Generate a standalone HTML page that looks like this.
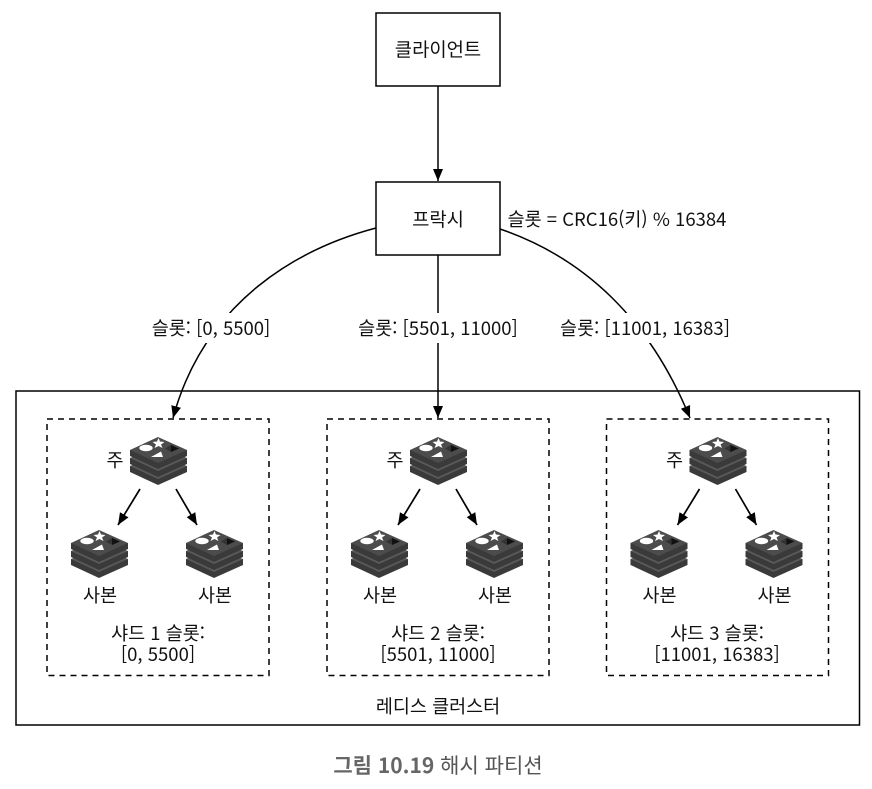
<!DOCTYPE html>
<html lang="ko"><head><meta charset="utf-8"><style>
html,body{margin:0;padding:0;background:#fff;width:872px;height:789px;overflow:hidden}
svg{display:block}
text{font-family:"Noto Sans CJK KR",sans-serif;font-size:18.500px;fill:#111;text-anchor:middle}
</style></head><body>
<svg width="872" height="789" viewBox="0 0 872 789" xmlns="http://www.w3.org/2000/svg">
<defs>
<g id="r">
<path d="M0 29 L0 35 L28 48 L57 35 L57 29 Z" fill="#3a3a3a"/>
<path d="M0 29 L28 17 L57 29 L28 42 Z" fill="#5a5a5a"/>
<path d="M0 21 L0 27 L28 40 L57 27 L57 21 Z" fill="#3a3a3a"/>
<path d="M0 21 L28 9 L57 21 L28 34 Z" fill="#5a5a5a"/>
<path d="M0 13 L0 19 L28 32 L57 19 L57 13 Z" fill="#3a3a3a"/>
<path d="M0 13 L28 0 L57 13 L28 26 Z" fill="#4c4c4c"/>
<path d="M28.500 1 L30 4.500 L34.500 5 L31 7.500 L32.500 11 L28.500 9 L24.500 11 L26 7.500 L22.500 5 L27 4.500 Z" fill="#fff"/>
<ellipse cx="16" cy="11" rx="6.700" ry="3.200" fill="#fff"/>
<path d="M21 20 L31 14.500 L33 20 Z" fill="#fff"/>
<path d="M41 8 L49 11.500 L41 15 Z" fill="#111"/>
<path d="M35 11.500 L41 8 L41 15 Z" fill="#333"/>
</g>
<marker id="a" markerWidth="13" markerHeight="11" refX="12" refY="5.500" orient="auto" markerUnits="userSpaceOnUse"><path d="M0 0.500 L12 5.500 L0 10.500 Z" fill="#000"/></marker>
<g id="s">
<rect x="47" y="419" width="222" height="256.500" fill="none" stroke="#000" stroke-width="1.500" stroke-dasharray="6 5"/>
<use href="#r" x="130" y="437"/>
<use href="#r" x="71" y="530"/>
<use href="#r" x="186" y="530"/>
<text x="115" y="467">주</text>
<text x="100" y="602">사본</text>
<text x="215" y="602">사본</text>
<path d="M140 489 L118 525" stroke="#000" stroke-width="1.700" fill="none" marker-end="url(#a)"/>
<path d="M176 489 L197 525" stroke="#000" stroke-width="1.700" fill="none" marker-end="url(#a)"/>
</g>
</defs>
<rect width="872" height="789" fill="#fff"/>
<rect x="16" y="391" width="843.500" height="334" fill="none" stroke="#000" stroke-width="1.500"/>
<rect x="376" y="13" width="124" height="73" fill="#fff" stroke="#000" stroke-width="1.500"/>
<text x="438" y="56" style="font-size:18.800px">클라이언트</text>
<path d="M438 86 L438 181" stroke="#000" stroke-width="1.500" fill="none" marker-end="url(#a)"/>
<rect x="376" y="182" width="124" height="73" fill="#fff" stroke="#000" stroke-width="1.500"/>
<text x="438" y="226" style="font-size:18.800px">프락시</text>
<text x="617" y="226">슬롯 = CRC16(키) % 16384</text>
<path d="M376 228 C300 248 205 300 173 418" stroke="#000" stroke-width="1.500" fill="none" marker-end="url(#a)"/>
<path d="M438 255 L438 418" stroke="#000" stroke-width="1.500" fill="none" marker-end="url(#a)"/>
<path d="M500 229 C585 258 650 320 690 418" stroke="#000" stroke-width="1.500" fill="none" marker-end="url(#a)"/>
<rect x="150" y="313" width="122" height="30" fill="#fff"/>
<rect x="355" y="313" width="165" height="30" fill="#fff"/>
<rect x="558" y="313" width="174" height="30" fill="#fff"/>
<text x="211" y="335">슬롯: [0, 5500]</text>
<text x="438" y="335">슬롯: [5501, 11000]</text>
<text x="645" y="335">슬롯: [11001, 16383]</text>
<use href="#s"/>
<use href="#s" x="280"/>
<use href="#s" x="559.500"/>
<text x="158" y="640">샤드 1 슬롯:</text>
<text x="158" y="661">[0, 5500]</text>
<text x="438" y="640">샤드 2 슬롯:</text>
<text x="438" y="661">[5501, 11000]</text>
<text x="717" y="640">샤드 3 슬롯:</text>
<text x="717" y="661">[11001, 16383]</text>
<text x="438" y="713">레디스 클러스터</text>
<text x="438" y="773" style="font-size:21px;fill:#555"><tspan font-weight="700" fill="#666">그림 10.19</tspan> 해시 파티션</text>
</svg>
</body></html>
